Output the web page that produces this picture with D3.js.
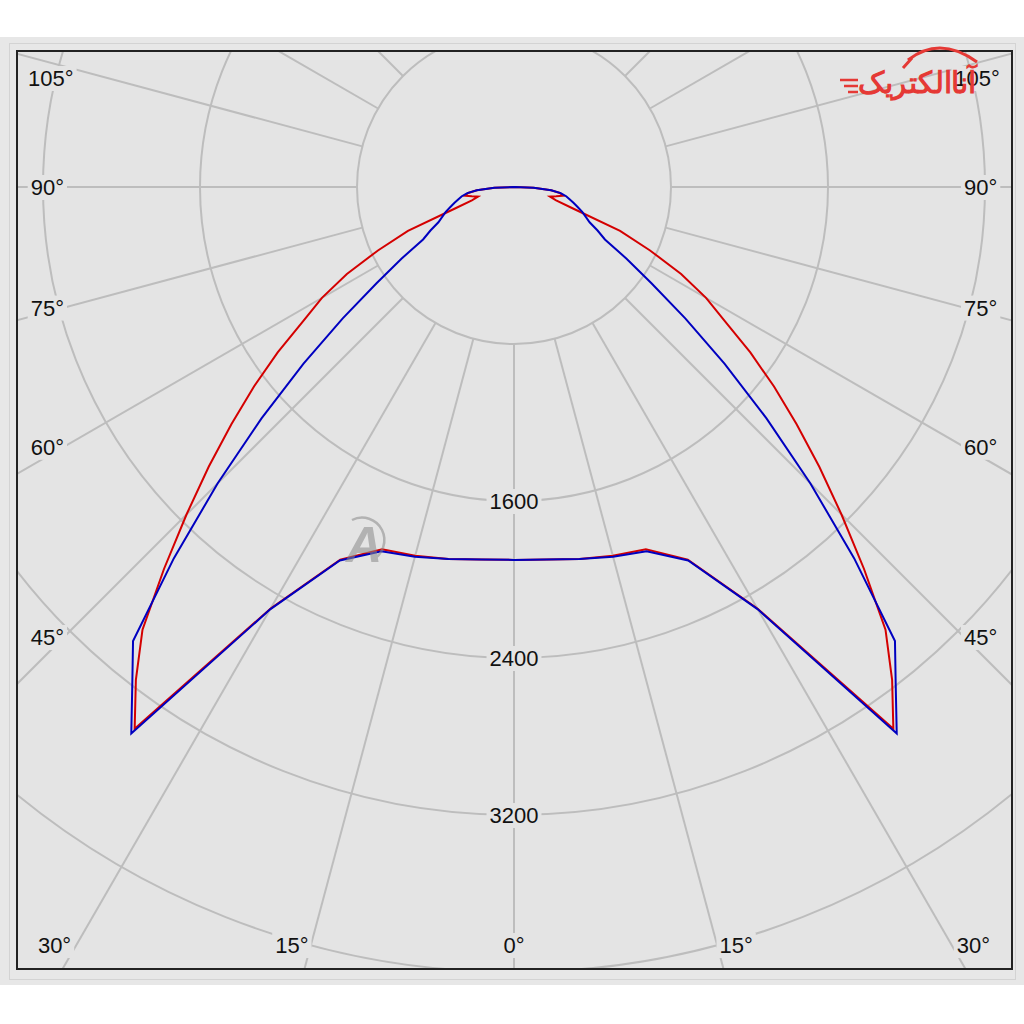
<!DOCTYPE html>
<html>
<head>
<meta charset="utf-8">
<script src="https://cdn.jsdelivr.net/npm/d3@7"></script>
<style>
  body { margin: 0; background: #fff; }
  text { font-family: "Liberation Sans", Arial, sans-serif; }
</style>
</head>
<body>
<svg id="chart" width="1024" height="1024"></svg>
<script>
// gamma angles (deg from nadir) and intensities (cd), one half-plane, mirrored
var GAMMA = [0, 5, 10, 15, 20, 25, 30, 35, 37.5, 40, 42.5, 45, 47.5, 50, 52.5, 55,
             57.5, 60, 62.5, 65, 67.5, 70, 72.5, 75, 77.5, 80, 82.5, 85, 87.5, 90];
var RED_CD = [1900, 1905, 1925, 1945, 1965, 2095, 2480, 3370, 3165, 2945, 2640, 2360, 2110, 1880, 1670, 1470,
              1275, 1130, 960, 765, 585, 320, 225, 190, 220, 255, 235, 190, 100, 0];
var BLUE_CD = [1900, 1905, 1925, 1950, 1975, 2100, 2485, 3400, 3195, 3020, 2565, 2135, 1745, 1400, 1100, 855,
               680, 535, 480, 425, 395, 370, 340, 315, 290, 270, 240, 190, 100, 0];

var RINGS = [800, 1600, 2400, 3200, 4000];
var RING_LABELS = [1600, 2400, 3200];
var SPOKES = d3.range(-180, 181, 15);
var ANGLE_LABELS = [0, 15, 30, 45, 60, 75, 90, 105];

var svg = d3.select("#chart");

var frame = {x: 17, y: 51, w: 995, h: 918};
var cx = 514, cy = 187;
var bg = "#e4e4e4", gridColor = "#bdbdbd";

var r = d3.scaleLinear().domain([0, 800]).range([0, 157]);

// outer panel
svg.append("rect").attr("x", 0).attr("y", 37).attr("width", 1024).attr("height", 948).attr("fill", "#e7e7e7");
svg.append("rect").attr("x", 9.5).attr("y", 43.5).attr("width", 1006).attr("height", 936)
   .attr("fill", "none").attr("stroke", "#d3d3d3");

svg.append("clipPath").attr("id", "clip")
   .append("rect").attr("x", frame.x).attr("y", frame.y).attr("width", frame.w).attr("height", frame.h);

svg.append("rect").attr("x", frame.x).attr("y", frame.y).attr("width", frame.w).attr("height", frame.h)
   .attr("fill", bg);

var plot = svg.append("g").attr("clip-path", "url(#clip)");
var g = plot.append("g").attr("transform", "translate(" + cx + "," + cy + ")");

// rings
g.selectAll(".ring").data(RINGS).enter().append("circle")
   .attr("r", function (d) { return r(d); })
   .attr("fill", "none").attr("stroke", gridColor).attr("stroke-width", 2);

// spokes, starting at the first ring
g.selectAll(".spoke").data(SPOKES).enter().append("line")
   .attr("x1", function (d) { return -r(800) * Math.sin(d * Math.PI / 180); })
   .attr("y1", function (d) { return r(800) * Math.cos(d * Math.PI / 180); })
   .attr("x2", function (d) { return -1500 * Math.sin(d * Math.PI / 180); })
   .attr("y2", function (d) { return 1500 * Math.cos(d * Math.PI / 180); })
   .attr("stroke", gridColor).attr("stroke-width", 2);

// labels with background boxes
var labels = plot.append("g");
function boxedText(x, y, txt, anchor) {
  var t = labels.append("text").attr("x", x).attr("y", y).attr("text-anchor", anchor)
     .attr("font-size", 22).attr("fill", "#111").text(txt);
  var b = t.node().getBBox();
  labels.insert("rect", "text").attr("x", b.x - 3).attr("y", b.y).attr("width", b.width + 6)
     .attr("height", b.height).attr("fill", bg);
}

RING_LABELS.forEach(function (v) {
  boxedText(cx, cy + r(v) + 8, String(v), "middle");
});

var L = 64, R = 964, T = 69, B = 954;
ANGLE_LABELS.forEach(function (a) {
  [1, -1].forEach(function (side) {
    if (a === 0 && side === -1) return;
    var rad = a * Math.PI / 180;
    var dx = -side * Math.sin(rad), dy = Math.cos(rad);
    var hits = [];
    if (dx < -1e-9) hits.push({t: (L - cx) / dx, k: "side"});
    if (dx > 1e-9) hits.push({t: (R - cx) / dx, k: "side"});
    if (dy > 1e-9) hits.push({t: (B - cy) / dy, k: "bottom"});
    if (dy < -1e-9) hits.push({t: (T - cy) / dy, k: "top"});
    var h = hits.sort(function (p, q) { return p.t - q.t; })[0];
    var px = cx + dx * h.t, py = cy + dy * h.t;
    var anchor = a === 0 ? "middle" : (side === 1 ? "end" : "start");
    var by = h.k === "side" ? py + 8 : (h.k === "bottom" ? py - 1 : py + 17);
    boxedText(px, by, a + "°", anchor);
  });
});

// curves: d3.lineRadial angle is clockwise from 12 o'clock
function halfPlanes(values) {
  var left = GAMMA.map(function (d, i) { return {a: Math.PI + d * Math.PI / 180, v: values[i]}; }).reverse();
  var right = GAMMA.map(function (d, i) { return {a: Math.PI - d * Math.PI / 180, v: values[i]}; }).slice(1);
  return left.concat(right);
}
var radial = d3.lineRadial()
   .angle(function (d) { return d.a; })
   .radius(function (d) { return r(d.v); });

g.append("path").attr("d", radial(halfPlanes(RED_CD)))
   .attr("fill", "none").attr("stroke", "#d40000").attr("stroke-width", 2).attr("stroke-linejoin", "miter");
g.append("path").attr("d", radial(halfPlanes(BLUE_CD)))
   .attr("fill", "none").attr("stroke", "#0000c0").attr("stroke-width", 2).attr("stroke-linejoin", "miter");

// frame border
svg.append("rect").attr("x", frame.x).attr("y", frame.y).attr("width", frame.w).attr("height", frame.h)
   .attr("fill", "none").attr("stroke", "#222").attr("stroke-width", 2);

// watermark
var wm = svg.append("g").attr("opacity", 0.55);
wm.append("text").attr("x", 364).attr("y", 562).attr("text-anchor", "middle")
   .attr("font-size", 50).attr("font-weight", "bold").attr("font-style", "italic")
   .attr("fill", "#8a8a8a").text("A");
wm.append("path").attr("d", "M352,520 A22,22 0 1 1 372,560")
   .attr("fill", "none").attr("stroke", "#8a8a8a").attr("stroke-width", 2.5);

// logo
var logo = svg.append("g");
logo.append("path").attr("d", "M903,68 L912,58 L908,60 Q940,35 977,62")
   .attr("fill", "none").attr("stroke", "#e53935").attr("stroke-width", 3);
logo.append("text").attr("x", 976).attr("y", 93).attr("text-anchor", "end")
   .attr("font-family", "DejaVu Sans").attr("font-size", 30).attr("font-weight", "bold")
   .attr("textLength", 118).attr("lengthAdjust", "spacingAndGlyphs")
   .attr("fill", "#e53935").text("آناالکتریک");
[80, 86, 92].forEach(function (y, i) {
  logo.append("line").attr("x1", 840 + i * 4).attr("x2", 858).attr("y1", y).attr("y2", y)
     .attr("stroke", "#e53935").attr("stroke-width", 2.5);
});
</script>
</body>
</html>
